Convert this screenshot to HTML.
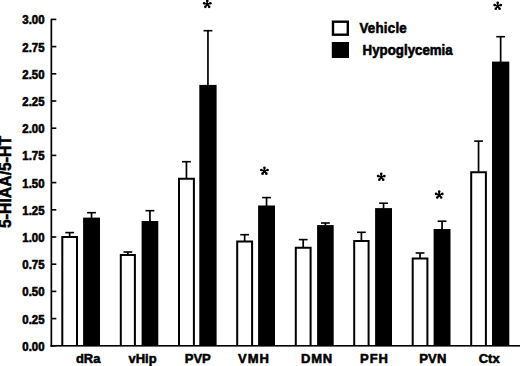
<!DOCTYPE html><html><head><meta charset="utf-8"><style>html,body{margin:0;padding:0;background:#fff;}svg{display:block;}text{font-family:"Liberation Sans",sans-serif;font-weight:bold;fill:#000;stroke:#000;stroke-width:0.55px;stroke-linejoin:round;}</style></head><body>
<svg width="520" height="366" viewBox="0 0 520 366">
<path d="M62.30,345.80V237.00H77.00V345.80" fill="#fff" stroke="#000" stroke-width="2.0" stroke-linejoin="miter"/>
<rect x="68.80" y="232.60" width="1.7" height="3.90" fill="#000"/>
<rect x="65.25" y="231.80" width="8.8" height="1.6" fill="#000"/>
<rect x="83.10" y="217.60" width="16.90" height="128.20" fill="#000"/>
<rect x="90.70" y="212.70" width="1.7" height="5.40" fill="#000"/>
<rect x="87.15" y="211.90" width="8.8" height="1.6" fill="#000"/>
<text x="88.20" y="362.7" font-size="13" text-anchor="middle" letter-spacing="0">dRa</text>
<path d="M120.80,345.80V255.00H134.90V345.80" fill="#fff" stroke="#000" stroke-width="2.0" stroke-linejoin="miter"/>
<rect x="127.00" y="252.00" width="1.7" height="2.50" fill="#000"/>
<rect x="123.45" y="251.20" width="8.8" height="1.6" fill="#000"/>
<rect x="141.60" y="221.00" width="16.70" height="124.80" fill="#000"/>
<rect x="149.10" y="210.70" width="1.7" height="10.80" fill="#000"/>
<rect x="145.55" y="209.90" width="8.8" height="1.6" fill="#000"/>
<text x="142.50" y="362.7" font-size="13" text-anchor="middle" letter-spacing="0">vHip</text>
<path d="M179.00,345.80V178.80H193.90V345.80" fill="#fff" stroke="#000" stroke-width="2.0" stroke-linejoin="miter"/>
<rect x="185.60" y="161.70" width="1.7" height="16.60" fill="#000"/>
<rect x="182.05" y="160.90" width="8.8" height="1.6" fill="#000"/>
<rect x="199.30" y="84.90" width="17.30" height="260.90" fill="#000"/>
<rect x="207.10" y="30.70" width="1.7" height="54.70" fill="#000"/>
<rect x="203.55" y="29.90" width="8.8" height="1.6" fill="#000"/>
<text x="197.80" y="362.7" font-size="13" text-anchor="middle" letter-spacing="0">PVP</text>
<g fill="#000"><path d="M207.25,4.20L207.25,0.90M207.25,4.20L204.11,3.18M207.25,4.20L205.31,6.87M207.25,4.20L209.19,6.87M207.25,4.20L210.39,3.18" stroke="#000" stroke-width="1.6" fill="none"/><circle cx="207.25" cy="0.90" r="1.3"/><circle cx="204.11" cy="3.18" r="1.3"/><circle cx="205.31" cy="6.87" r="1.3"/><circle cx="209.19" cy="6.87" r="1.3"/><circle cx="210.39" cy="3.18" r="1.3"/></g>
<path d="M237.20,345.80V241.50H252.10V345.80" fill="#fff" stroke="#000" stroke-width="2.0" stroke-linejoin="miter"/>
<rect x="243.80" y="234.70" width="1.7" height="6.30" fill="#000"/>
<rect x="240.25" y="233.90" width="8.8" height="1.6" fill="#000"/>
<rect x="258.10" y="205.50" width="16.90" height="140.30" fill="#000"/>
<rect x="265.70" y="197.60" width="1.7" height="8.40" fill="#000"/>
<rect x="262.15" y="196.80" width="8.8" height="1.6" fill="#000"/>
<text x="254.00" y="362.7" font-size="13" text-anchor="middle" letter-spacing="1.0">VMH</text>
<g fill="#000"><path d="M264.45,171.00L264.45,167.70M264.45,171.00L261.31,169.98M264.45,171.00L262.51,173.67M264.45,171.00L266.39,173.67M264.45,171.00L267.59,169.98" stroke="#000" stroke-width="1.6" fill="none"/><circle cx="264.45" cy="167.70" r="1.3"/><circle cx="261.31" cy="169.98" r="1.3"/><circle cx="262.51" cy="173.67" r="1.3"/><circle cx="266.39" cy="173.67" r="1.3"/><circle cx="267.59" cy="169.98" r="1.3"/></g>
<path d="M295.80,345.80V247.70H310.60V345.80" fill="#fff" stroke="#000" stroke-width="2.0" stroke-linejoin="miter"/>
<rect x="302.35" y="239.60" width="1.7" height="7.60" fill="#000"/>
<rect x="298.80" y="238.80" width="8.8" height="1.6" fill="#000"/>
<rect x="317.10" y="225.10" width="16.60" height="120.70" fill="#000"/>
<rect x="324.55" y="223.00" width="1.7" height="2.60" fill="#000"/>
<rect x="321.00" y="222.20" width="8.8" height="1.6" fill="#000"/>
<text x="317.00" y="362.7" font-size="13" text-anchor="middle" letter-spacing="0.8">DMN</text>
<path d="M354.20,345.80V241.00H368.60V345.80" fill="#fff" stroke="#000" stroke-width="2.0" stroke-linejoin="miter"/>
<rect x="360.55" y="232.30" width="1.7" height="8.20" fill="#000"/>
<rect x="357.00" y="231.50" width="8.8" height="1.6" fill="#000"/>
<rect x="375.10" y="208.10" width="16.90" height="137.70" fill="#000"/>
<rect x="382.70" y="203.20" width="1.7" height="5.40" fill="#000"/>
<rect x="379.15" y="202.40" width="8.8" height="1.6" fill="#000"/>
<text x="374.50" y="362.7" font-size="13" text-anchor="middle" letter-spacing="1.0">PFH</text>
<g fill="#000"><path d="M381.25,177.10L381.25,173.80M381.25,177.10L378.11,176.08M381.25,177.10L379.31,179.77M381.25,177.10L383.19,179.77M381.25,177.10L384.39,176.08" stroke="#000" stroke-width="1.6" fill="none"/><circle cx="381.25" cy="173.80" r="1.3"/><circle cx="378.11" cy="176.08" r="1.3"/><circle cx="379.31" cy="179.77" r="1.3"/><circle cx="383.19" cy="179.77" r="1.3"/><circle cx="384.39" cy="176.08" r="1.3"/></g>
<path d="M412.70,345.80V258.60H427.40V345.80" fill="#fff" stroke="#000" stroke-width="2.0" stroke-linejoin="miter"/>
<rect x="419.20" y="253.00" width="1.7" height="5.10" fill="#000"/>
<rect x="415.65" y="252.20" width="8.8" height="1.6" fill="#000"/>
<rect x="433.60" y="229.00" width="16.90" height="116.80" fill="#000"/>
<rect x="441.20" y="221.20" width="1.7" height="8.30" fill="#000"/>
<rect x="437.65" y="220.40" width="8.8" height="1.6" fill="#000"/>
<text x="432.95" y="362.7" font-size="13" text-anchor="middle" letter-spacing="0.3">PVN</text>
<g fill="#000"><path d="M439.20,194.90L439.20,191.60M439.20,194.90L436.06,193.88M439.20,194.90L437.26,197.57M439.20,194.90L441.14,197.57M439.20,194.90L442.34,193.88" stroke="#000" stroke-width="1.6" fill="none"/><circle cx="439.20" cy="191.60" r="1.3"/><circle cx="436.06" cy="193.88" r="1.3"/><circle cx="437.26" cy="197.57" r="1.3"/><circle cx="441.14" cy="197.57" r="1.3"/><circle cx="442.34" cy="193.88" r="1.3"/></g>
<path d="M471.20,345.80V172.30H485.90V345.80" fill="#fff" stroke="#000" stroke-width="2.0" stroke-linejoin="miter"/>
<rect x="477.70" y="141.10" width="1.7" height="30.70" fill="#000"/>
<rect x="474.15" y="140.30" width="8.8" height="1.6" fill="#000"/>
<rect x="492.00" y="61.60" width="17.30" height="284.20" fill="#000"/>
<rect x="499.80" y="36.70" width="1.7" height="25.40" fill="#000"/>
<rect x="496.25" y="35.90" width="8.8" height="1.6" fill="#000"/>
<text x="489.20" y="362.7" font-size="13" text-anchor="middle" letter-spacing="0">Ctx</text>
<g fill="#000"><path d="M497.70,6.10L497.70,2.80M497.70,6.10L494.56,5.08M497.70,6.10L495.76,8.77M497.70,6.10L499.64,8.77M497.70,6.10L500.84,5.08" stroke="#000" stroke-width="1.6" fill="none"/><circle cx="497.70" cy="2.80" r="1.3"/><circle cx="494.56" cy="5.08" r="1.3"/><circle cx="495.76" cy="8.77" r="1.3"/><circle cx="499.64" cy="8.77" r="1.3"/><circle cx="500.84" cy="5.08" r="1.3"/></g>
<rect x="50.5" y="18.8" width="1.7" height="327.80" fill="#000"/>
<rect x="50.5" y="345.00" width="469.50" height="1.6" fill="#000"/>
<rect x="51" y="345.00" width="5.3" height="1.6" fill="#000"/>
<text transform="translate(44.5,350.70) scale(1.01,1.07)" font-size="11.3" text-anchor="end">0.00</text>
<rect x="51" y="317.80" width="5.3" height="1.6" fill="#000"/>
<text transform="translate(44.5,323.50) scale(1.01,1.07)" font-size="11.3" text-anchor="end">0.25</text>
<rect x="51" y="290.60" width="5.3" height="1.6" fill="#000"/>
<text transform="translate(44.5,296.30) scale(1.01,1.07)" font-size="11.3" text-anchor="end">0.50</text>
<rect x="51" y="263.40" width="5.3" height="1.6" fill="#000"/>
<text transform="translate(44.5,269.10) scale(1.01,1.07)" font-size="11.3" text-anchor="end">0.75</text>
<rect x="51" y="236.20" width="5.3" height="1.6" fill="#000"/>
<text transform="translate(44.5,241.90) scale(1.01,1.07)" font-size="11.3" text-anchor="end">1.00</text>
<rect x="51" y="209.00" width="5.3" height="1.6" fill="#000"/>
<text transform="translate(44.5,214.70) scale(1.01,1.07)" font-size="11.3" text-anchor="end">1.25</text>
<rect x="51" y="181.80" width="5.3" height="1.6" fill="#000"/>
<text transform="translate(44.5,187.50) scale(1.01,1.07)" font-size="11.3" text-anchor="end">1.50</text>
<rect x="51" y="154.60" width="5.3" height="1.6" fill="#000"/>
<text transform="translate(44.5,160.30) scale(1.01,1.07)" font-size="11.3" text-anchor="end">1.75</text>
<rect x="51" y="127.40" width="5.3" height="1.6" fill="#000"/>
<text transform="translate(44.5,133.10) scale(1.01,1.07)" font-size="11.3" text-anchor="end">2.00</text>
<rect x="51" y="100.20" width="5.3" height="1.6" fill="#000"/>
<text transform="translate(44.5,105.90) scale(1.01,1.07)" font-size="11.3" text-anchor="end">2.25</text>
<rect x="51" y="73.00" width="5.3" height="1.6" fill="#000"/>
<text transform="translate(44.5,78.70) scale(1.01,1.07)" font-size="11.3" text-anchor="end">2.50</text>
<rect x="51" y="45.80" width="5.3" height="1.6" fill="#000"/>
<text transform="translate(44.5,51.50) scale(1.01,1.07)" font-size="11.3" text-anchor="end">2.75</text>
<rect x="51" y="18.60" width="5.3" height="1.6" fill="#000"/>
<text transform="translate(44.5,24.30) scale(1.01,1.07)" font-size="11.3" text-anchor="end">3.00</text>
<text transform="translate(11.3,181.9) rotate(-90)" x="0" y="0" font-size="15.8" text-anchor="middle">5-HIAA/5-HT</text>
<rect x="333" y="21.7" width="14.8" height="13" fill="#fff" stroke="#000" stroke-width="2.4"/>
<rect x="331.8" y="42" width="17.2" height="16" fill="#000"/>
<text transform="translate(359.4,32.9) scale(1,1.07)" font-size="13.3" letter-spacing="0.25">Vehicle</text>
<text transform="translate(362.6,54.6) scale(1,1.05)" font-size="13.3">Hypoglycemia</text>
</svg></body></html>
